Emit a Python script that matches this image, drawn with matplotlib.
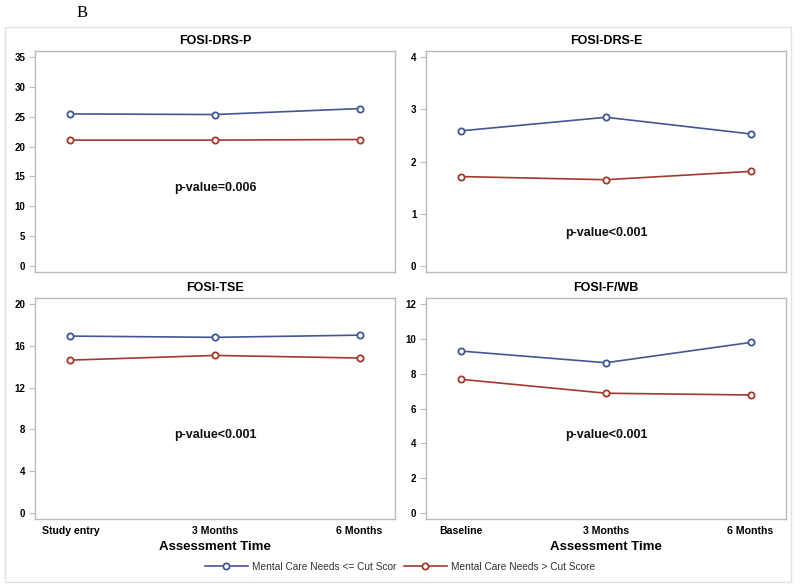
import matplotlib

matplotlib.use("Agg")
import matplotlib.pyplot as plt
from matplotlib.patches import Rectangle
from matplotlib.lines import Line2D
import numpy as np

plt.rcParams["font.family"] = ["Liberation Sans", "DejaVu Sans"]

# --- data ---
times_top = ["Study entry", "3 Months", "6 Months"]
times_right = ["Baseline", "3 Months", "6 Months"]

drs_p_low = [25.5, 25.4, 26.4]
drs_p_high = [21.1, 21.1, 21.2]
drs_e_low = [2.59, 2.85, 2.53]
drs_e_high = [1.71, 1.65, 1.81]
tse_low = [16.96, 16.84, 17.05]
tse_high = [14.65, 15.1, 14.85]
fwb_low = [9.31, 8.64, 9.81]
fwb_high = [7.68, 6.88, 6.78]

titles = ["FOSI-DRS-P", "FOSI-DRS-E", "FOSI-TSE", "FOSI-F/WB"]
y_max = [35, 4, 20, 12]
y_step = [5, 1, 4, 2]
p_text = ["p-value=0.006", "p-value<0.001", "p-value<0.001", "p-value<0.001"]
p_y = [13.0, 0.63, 7.45, 4.48]
series_low = [drs_p_low, drs_e_low, tse_low, fwb_low]
series_high = [drs_p_high, drs_e_high, tse_high, fwb_high]
x_labels = [times_top, times_right, times_top, times_right]

legend_labels = ["Mental Care Needs <= Cut Scor", "Mental Care Needs > Cut Score"]

BLUE = "#445694"
RED = "#A23A2E"
SPINE = "#b8bcc0"

fig = plt.figure(figsize=(8, 5.88), dpi=100)

# outer light frame
fig.patches.append(
    Rectangle(
        (5 / 800, 1 - 582 / 588),
        786 / 800,
        555 / 588,
        transform=fig.transFigure,
        fill=False,
        edgecolor="#e2e2e2",
        linewidth=1.0,
    )
)

fig.text(82 / 800, 1 - 13 / 588, "B", family="Liberation Serif", fontsize=12,
         ha="center", va="center")

positions = [
    (35 / 800, 1 - 272 / 588),
    (426 / 800, 1 - 272 / 588),
    (35 / 800, 1 - 519 / 588),
    (426 / 800, 1 - 519 / 588),
]
w, h = 360 / 800, 221 / 588

for i in range(4):
    ax = fig.add_axes([positions[i][0], positions[i][1], w, h])
    x = np.arange(3)
    ax.plot(x, series_low[i], "-o", color=BLUE, lw=1.2, ms=4.5,
            mfc="white", mew=1.3)
    ax.plot(x, series_high[i], "-o", color=RED, lw=1.2, ms=4.5,
            mfc="white", mew=1.3)
    pad = 0.031 * y_max[i]
    ax.set_ylim(-pad, y_max[i] + pad)
    ax.set_yticks(np.arange(0, y_max[i] + 0.01, y_step[i]))
    ax.set_xlim(-0.245, 2.245)
    ax.set_xticks(x)
    ax.text(1, p_y[i], p_text[i], ha="center", va="center",
            fontsize=9, fontweight="bold", color="#111111")
    ax.set_title(titles[i], fontsize=9, fontweight="bold", pad=5)
    for s in ax.spines.values():
        s.set_color(SPINE)
        s.set_linewidth(1.0)
    ax.tick_params(axis="y", length=4, color=SPINE, labelsize=7, pad=3)
    for lab in ax.get_yticklabels():
        lab.set_fontweight("bold")
    if i >= 2:
        ax.set_xticklabels(x_labels[i], fontsize=7.6, fontweight="bold")
        ax.tick_params(axis="x", length=0, pad=5)
        ax.set_xlabel("Assessment Time", fontsize=9.5, fontweight="bold",
                      labelpad=4)
    else:
        ax.set_xticklabels([])
        ax.tick_params(axis="x", length=0)

handles = [
    Line2D([], [], color=BLUE, marker="o", lw=1.2, ms=4.5, mfc="white", mew=1.3),
    Line2D([], [], color=RED, marker="o", lw=1.2, ms=4.5, mfc="white", mew=1.3),
]
leg = fig.legend(handles, legend_labels, loc="center", ncol=2,
                 bbox_to_anchor=(0.5, 1 - 567 / 588), frameon=False,
                 fontsize=7.3, handlelength=4.2, columnspacing=0.8,
                 handletextpad=0.4)
for t in leg.get_texts():
    t.set_color("#333333")

fig.savefig("out.png", dpi=100)
